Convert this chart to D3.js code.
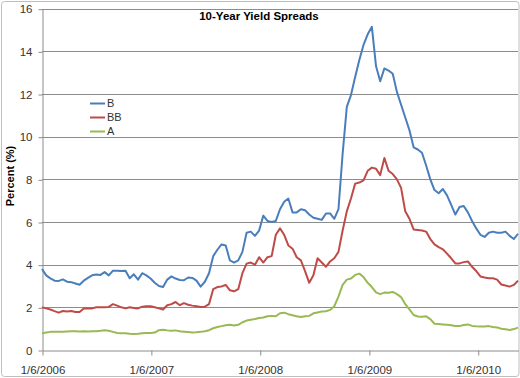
<!DOCTYPE html>
<html>
<head>
<meta charset="utf-8">
<script src="https://cdn.jsdelivr.net/npm/d3@7"></script>
<style>
  body { margin: 0; background: #fff; }
  svg { display: block; font-family: "Liberation Sans", Arial, sans-serif; }
</style>
</head>
<body>
<svg id="chart"></svg>
<script>
// biweekly readings starting 1/6/2006
const startDate = "2006-01-06";
const stepDays = 14;
const seriesNames = ["B", "BB", "A"];
const xTickLabels = ["1/6/2006", "1/6/2007", "1/6/2008", "1/6/2009", "1/6/2010"];
const yTicks = [0, 2, 4, 6, 8, 10, 12, 14, 16];

const bValues = [3.8, 3.5, 3.36, 3.25, 3.24, 3.31, 3.2, 3.18, 3.12, 3.06,
  3.25, 3.38, 3.5, 3.54, 3.52, 3.65, 3.5, 3.72, 3.72, 3.7,
  3.72, 3.36, 3.55, 3.3, 3.6, 3.5, 3.35, 3.15, 3.0, 2.95,
  3.3, 3.45, 3.35, 3.28, 3.27, 3.4, 3.38, 3.25, 2.97, 3.2,
  3.6, 4.4, 4.7, 4.95, 4.9, 4.2, 4.1, 4.2, 4.6, 5.5,
  5.55, 5.35, 5.6, 6.3, 6.05, 6.0, 6.05, 6.6, 6.95, 7.1,
  6.45, 6.45, 6.6, 6.55, 6.35, 6.2, 6.15, 6.1, 6.4, 6.4,
  6.15, 6.6, 9.2, 11.4, 11.95, 12.8, 13.6, 14.3, 14.8, 15.15,
  13.3, 12.6, 13.2, 13.1, 12.95, 12.1, 11.5, 10.9, 10.3, 9.5,
  9.4, 9.25, 8.65, 8.0, 7.5, 7.35, 7.55, 7.25, 6.8, 6.35,
  6.7, 6.75, 6.45, 6.05, 5.7, 5.4, 5.3, 5.5, 5.55, 5.5,
  5.5, 5.55, 5.35, 5.2, 5.45];

const bbValues = [2.0, 1.95, 1.9, 1.82, 1.75, 1.83, 1.8, 1.83, 1.78, 1.78,
  1.95, 1.95, 1.95, 2.0, 2.0, 2.0, 2.02, 2.15, 2.08, 2.0,
  1.95, 2.0, 1.97, 1.95, 2.03, 2.05, 2.05, 2.0, 1.95, 1.9,
  2.1, 2.15, 2.25, 2.1, 2.2, 2.12, 2.08, 2.05, 2.02, 2.03,
  2.15, 2.85, 2.95, 2.98, 3.05, 2.8, 2.75, 2.85, 3.6, 4.05,
  4.1, 4.0, 4.35, 4.1, 4.35, 4.4, 5.4, 5.7, 5.4, 4.9,
  4.75, 4.35, 4.2, 3.7, 3.15, 3.5, 4.3, 4.1, 3.9, 4.15,
  4.3, 4.6, 5.6, 6.5, 7.1, 7.8, 7.85, 7.95, 8.4, 8.55,
  8.5, 8.2, 9.0, 8.4, 8.25, 8.0, 7.6, 6.5, 6.15, 5.65,
  5.63, 5.6, 5.55, 5.2, 4.95, 4.82, 4.72, 4.52, 4.3, 4.06,
  4.06, 4.12, 4.15, 3.9, 3.7, 3.45, 3.4, 3.36, 3.36, 3.3,
  3.07, 3.02, 2.97, 3.05, 3.25];

const aValues = [0.78, 0.82, 0.85, 0.85, 0.86, 0.86, 0.87, 0.88, 0.88, 0.87,
  0.88, 0.87, 0.88, 0.88, 0.9, 0.93, 0.9, 0.85, 0.8, 0.78,
  0.78, 0.76, 0.75, 0.76, 0.78, 0.8, 0.8, 0.82, 0.93, 0.95,
  0.92, 0.9, 0.92, 0.88, 0.86, 0.84, 0.82, 0.83, 0.85, 0.88,
  0.93, 1.02, 1.08, 1.12, 1.16, 1.18, 1.15, 1.18, 1.3, 1.38,
  1.42, 1.45, 1.5, 1.52, 1.58, 1.6, 1.58, 1.72, 1.75, 1.68,
  1.63, 1.58, 1.55, 1.58, 1.6, 1.72, 1.76, 1.8, 1.82, 1.88,
  2.05, 2.5, 3.05, 3.3, 3.35, 3.52, 3.58, 3.42, 3.15, 2.95,
  2.7, 2.62, 2.69, 2.68, 2.72, 2.62, 2.48, 2.15, 1.9, 1.64,
  1.57, 1.56, 1.58, 1.45, 1.23, 1.22, 1.2, 1.18, 1.16, 1.13,
  1.12, 1.17, 1.2, 1.13, 1.11, 1.1, 1.1, 1.12, 1.08, 1.06,
  1.0, 0.97, 0.94, 0.98, 1.05];

const width = 520, height = 378;
const margin = { top: 8.7, right: 2, bottom: 28, left: 42 };
const colors = ["#4a7ebb", "#be4b48", "#98b954"];

const svg = d3.select("#chart")
  .attr("width", width)
  .attr("height", height);

// chart frame
svg.append("rect")
  .attr("x", 1.5).attr("y", 1.5)
  .attr("width", width - 2.5).attr("height", height - 3)
  .attr("rx", 3)
  .attr("fill", "#fff")
  .attr("stroke", "#bfbfbf");

const parseDay = d3.timeParse("%Y-%m-%d");
const parseTick = d3.timeParse("%-m/%-d/%Y");
const t0 = parseDay(startDate);
const dates = bValues.map((d, i) => d3.timeDay.offset(t0, i * stepDays));

const x = d3.scaleTime()
  .domain([dates[0], dates[dates.length - 1]])
  .range([margin.left, width - margin.right]);

const y = d3.scaleLinear()
  .domain([0, 16])
  .range([height - margin.bottom, margin.top]);

// gridlines
svg.append("g")
  .selectAll("line")
  .data(yTicks.filter(d => d > 0))
  .join("line")
  .attr("x1", margin.left).attr("x2", width - margin.right)
  .attr("y1", d => Math.round(y(d)) + 0.5).attr("y2", d => Math.round(y(d)) + 0.5)
  .attr("stroke", "#8c8c8c");

// y axis
const yAxis = svg.append("g")
  .attr("transform", `translate(${margin.left + 0.5},0.5)`)
  .call(d3.axisLeft(y).tickValues(yTicks).tickSize(4).tickPadding(6).tickSizeOuter(0));
yAxis.select(".domain").attr("stroke", "#8c8c8c");
yAxis.selectAll(".tick line").attr("stroke", "#8c8c8c");
yAxis.selectAll("text").attr("font-size", "11.5px").attr("fill", "#333")
  .attr("font-family", "Liberation Sans, Arial, sans-serif");

// x axis
const xAxis = svg.append("g")
  .attr("transform", `translate(0.5,${Math.round(y(0)) + 0.5})`)
  .call(d3.axisBottom(x)
    .tickValues(xTickLabels.map(parseTick))
    .tickFormat(d3.timeFormat("%-m/%-d/%Y"))
    .tickSize(5).tickSizeOuter(0));
xAxis.select(".domain").attr("stroke", "#8c8c8c");
xAxis.selectAll(".tick line").attr("stroke", "#8c8c8c");
xAxis.selectAll("text").attr("font-size", "11.5px").attr("fill", "#333")
  .attr("y", 15)
  .attr("font-family", "Liberation Sans, Arial, sans-serif");

// lines
const line = d3.line()
  .x((d, i) => x(dates[i]))
  .y(d => y(d));

[bValues, bbValues, aValues].forEach((vals, k) => {
  svg.append("path")
    .datum(vals)
    .attr("fill", "none")
    .attr("stroke", colors[k])
    .attr("stroke-width", 2)
    .attr("stroke-linejoin", "round")
    .attr("d", line);
});

// title
svg.append("text")
  .attr("x", 259).attr("y", 20)
  .attr("text-anchor", "middle")
  .attr("font-size", "11.5px")
  .attr("font-weight", "bold")
  .attr("fill", "#000")
  .text("10-Year Yield Spreads");

// y axis title
svg.append("text")
  .attr("transform", "translate(14,176) rotate(-90)")
  .attr("text-anchor", "middle")
  .attr("font-size", "11px")
  .attr("font-weight", "bold")
  .attr("fill", "#000")
  .text("Percent (%)");

// legend
const legend = svg.append("g");
seriesNames.forEach((name, k) => {
  const ly = 103.5 + k * 14;
  legend.append("line")
    .attr("x1", 90).attr("x2", 105)
    .attr("y1", ly).attr("y2", ly)
    .attr("stroke", colors[k]).attr("stroke-width", 2);
  legend.append("text")
    .attr("x", 107).attr("y", ly)
    .attr("dy", "0.35em")
    .attr("font-size", "11px")
    .attr("fill", "#333")
    .text(name);
});
</script>
</body>
</html>
